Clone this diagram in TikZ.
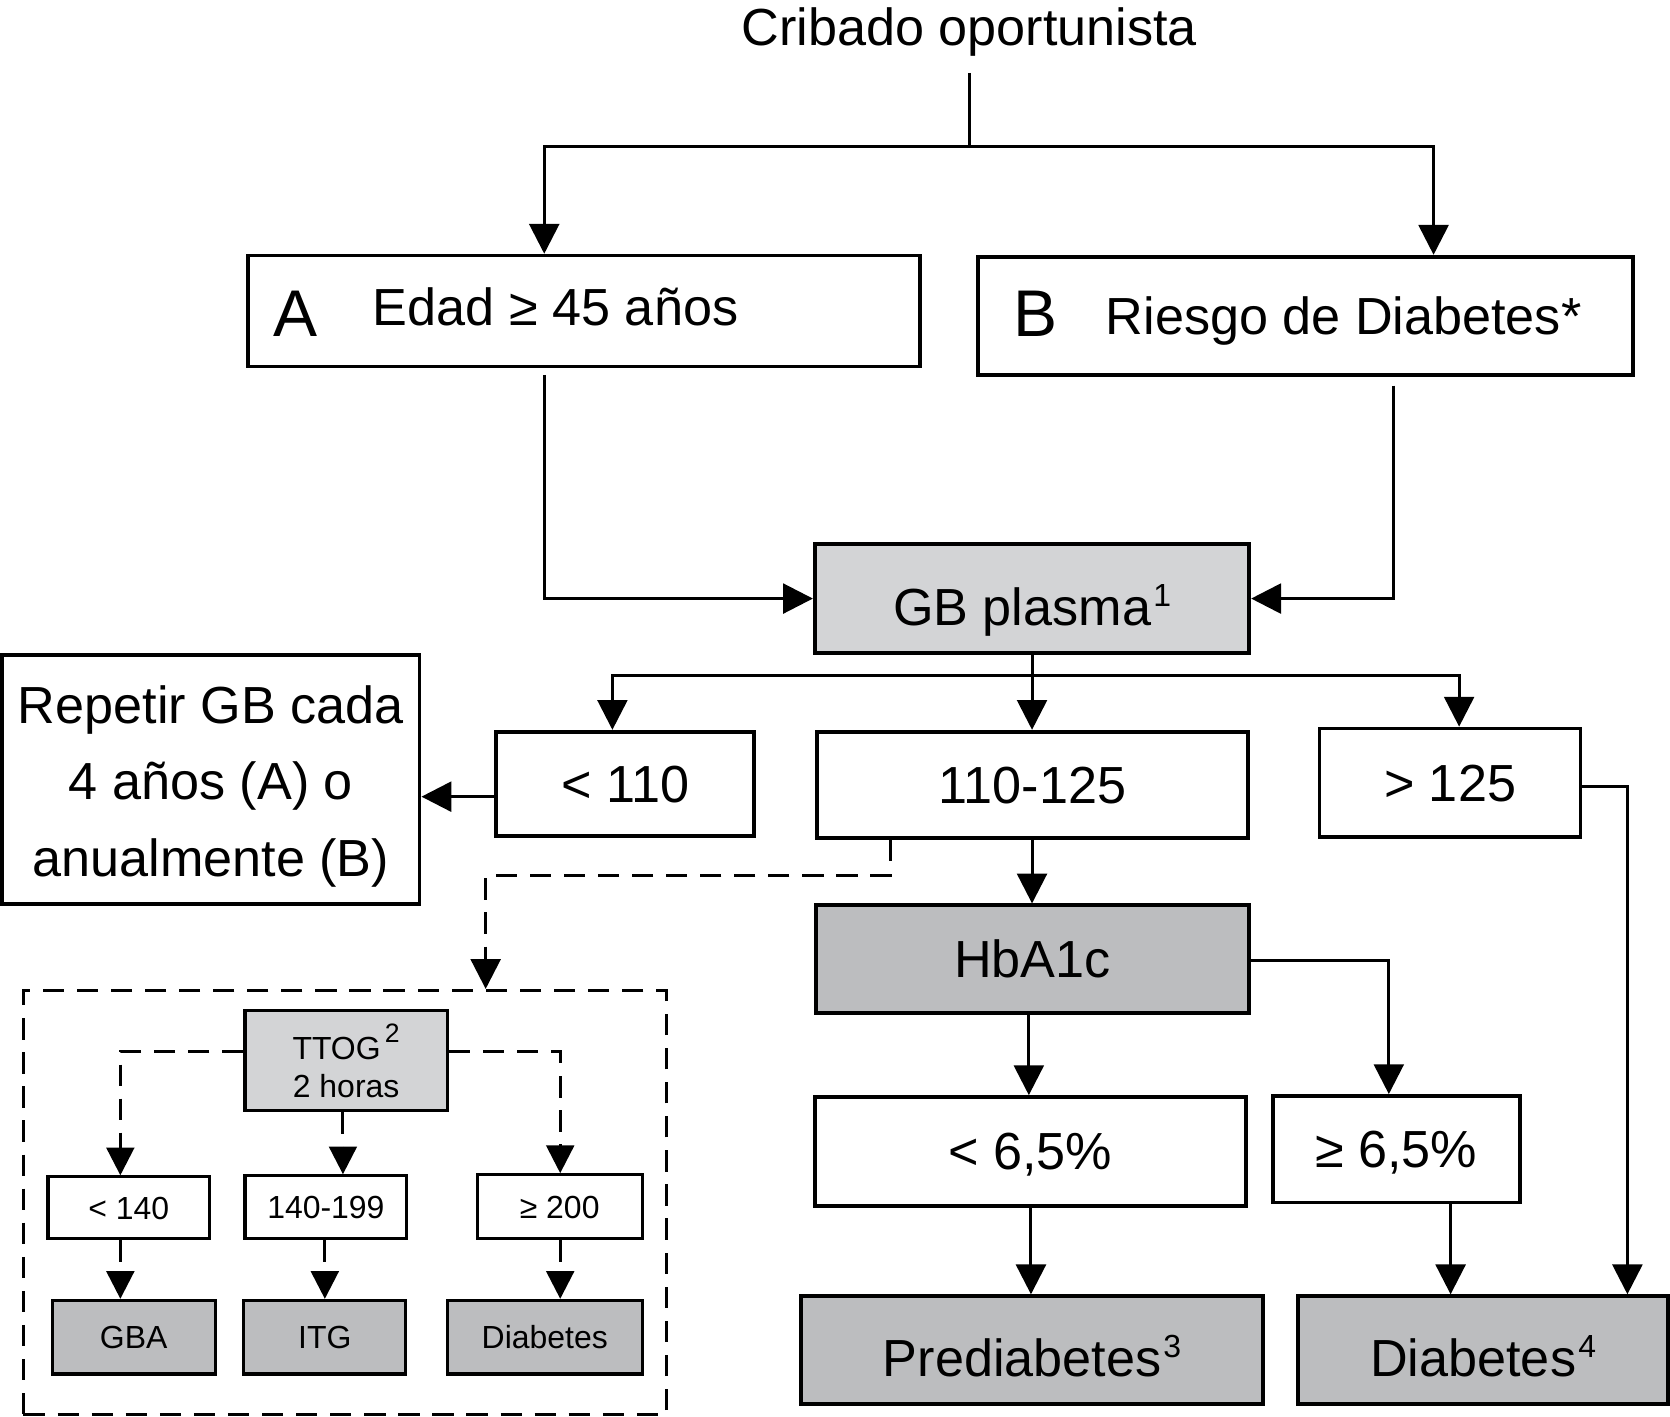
\documentclass[tikz,border=0pt]{standalone}
\usepackage{fontspec}
\setmainfont{Liberation Sans}
\usetikzlibrary{arrows.meta}
\definecolor{lgray}{HTML}{D3D4D6}
\definecolor{dgray}{HTML}{BCBDBF}
\newcommand\mysup[1]{\kern2pt\raisebox{18pt}{\fontsize{30}{30}\selectfont #1}}
\begin{document}
\begin{tikzpicture}[x=1pt,y=-1pt,
  bigfont/.style={font=\fontsize{49}{58}\selectfont},
  bigbox/.style={draw,line width=3.5pt,inner sep=0pt,bigfont,text height=35pt,text depth=0pt},
  supbox/.style={bigbox,text height=50pt},
  smallbox/.style={draw,line width=3pt,inner sep=0pt,font=\fontsize{30}{35}\selectfont,text height=21.5pt,text depth=0pt},
  conn/.style={line width=2.8pt},
  arr/.style={conn,-{Triangle[length=28pt,width=28pt]}},
  sarr/.style={conn,-{Triangle[length=26pt,width=26pt]}},
  dsh/.style={dash pattern=on 20pt off 12pt}]
\useasboundingbox (0,0) rectangle (1568,1330);

% dashed frame
\node[draw,line width=3pt,dsh,inner sep=0pt,minimum width=604pt,minimum height=398pt] (dbox) at (324,1129) {};

% title
\node[bigfont,inner sep=0pt,anchor=base] (cri) at (910,43) {Cribado oportunista};

% A and B boxes
\node[draw,line width=3.5pt,inner sep=0pt,minimum width=631pt,minimum height=104pt] (A) at (548.5,292) {};
\node[font=\fontsize{62}{62}\selectfont,inner sep=0pt,anchor=base west] (Alab) at (257,316) {A};
\node[bigfont,inner sep=0pt,anchor=base west] (Atxt) at (350,306) {Edad ≥ 45 años};
\node[draw,line width=3.5pt,inner sep=0pt,minimum width=615pt,minimum height=111pt] (B) at (1225.5,296.5) {};
\node[font=\fontsize{62}{62}\selectfont,inner sep=0pt,anchor=base west] (Blab) at (951,316) {B};
\node[bigfont,inner sep=0pt,anchor=base west] (Btxt) at (1038,314) {Riesgo de Diabetes*};

% main boxes
\node[supbox,fill=lgray,minimum width=408pt,minimum height=102pt] (GB) at (969,562) {GB plasma\mysup{1}};
\node[bigbox,minimum width=242pt,minimum height=98pt] (lt) at (587,736) {< 110};
\node[bigbox,minimum width=405pt,minimum height=100pt] (mid) at (969.5,737) {110-125};
\node[bigbox,minimum width=245pt,minimum height=102pt] (gt) at (1361.5,735) {> 125};
\node[draw,line width=3.5pt,inner sep=0pt,align=center,font=\fontsize{49}{72}\selectfont,minimum width=392pt,minimum height=234pt] (rep) at (198,732) {\rule{0pt}{48pt}Repetir GB cada\\4 años (A) o\\anualmente (B)};
\node[bigbox,fill=dgray,minimum width=407pt,minimum height=101pt] (hb) at (969.5,900.5) {HbA1c};
\node[bigbox,minimum width=405pt,minimum height=102pt] (lt65) at (967.5,1081) {< 6,5\%};
\node[bigbox,minimum width=232pt,minimum height=100pt] (ge65) at (1311,1079) {≥ 6,5\%};
\node[supbox,fill=dgray,minimum width=434pt,minimum height=101pt] (pre) at (969,1267.5) {Prediabetes\mysup{3}};
\node[supbox,fill=dgray,minimum width=347pt,minimum height=101pt] (dia) at (1392.5,1267.5) {Diabetes\mysup{4}};

% small boxes
\node[draw,line width=3pt,inner sep=0pt,fill=lgray,align=center,font=\fontsize{30}{35}\selectfont,minimum width=190pt,minimum height=94pt] (tt) at (325,996) {TTOG\kern4pt\raisebox{16pt}{\fontsize{25}{25}\selectfont 2}\\2 horas};
\node[smallbox,minimum width=152pt,minimum height=58pt] (l140) at (121,1134) {< 140};
\node[smallbox,minimum width=152pt,minimum height=59pt] (m140) at (306,1133.5) {140-199};
\node[smallbox,minimum width=155pt,minimum height=60pt] (g200) at (525.5,1133) {≥ 200};
\node[smallbox,fill=dgray,minimum width=153pt,minimum height=69pt] (gba) at (125.5,1255.5) {GBA};
\node[smallbox,fill=dgray,minimum width=152pt,minimum height=69pt] (itg) at (305,1255.5) {ITG};
\node[smallbox,fill=dgray,minimum width=183pt,minimum height=69pt] (dsm) at (511.5,1255.5) {Diabetes};

% free ends
\coordinate (split) at (910,138);
\coordinate (Aout) at (511,352);
\coordinate (Bout) at (1308,362);
\coordinate (gbs) at (969,634);

% connectors
\draw[conn] ([yshift=-15pt]cri.south) -- (split);
\draw[arr] (split) -| (511,0 |- A.north);
\draw[arr] (split) -| (1346,0 |- B.north);
\draw[arr] (Aout) |- (GB.west);
\draw[arr] (Bout) |- (GB.east);
\draw[conn] (GB.south) -- (gbs);
\draw[arr] (gbs) -| (575,0 |- lt.north);
\draw[arr] (gbs) -| (1370,0 |- gt.north);
\draw[arr] (gbs) -- (gbs |- mid.north);
\draw[arr] (lt.west |- 0,748) -- (rep.east |- 0,748);
\draw[arr] (gt.east |- 0,738) -| (1528,0 |- dia.north);
\draw[arr] (969,0 |- mid.south) -- (969,0 |- hb.north);
\draw[arr,dsh] (836,0 |- mid.south) -- (836,822) -| (456,0 |- dbox.north);
\draw[arr] (966,0 |- hb.south) -- (966,0 |- lt65.north);
\draw[arr] (hb.east |- 0,902) -| (1304,0 |- ge65.north);
\draw[arr] (968,0 |- lt65.south) -- (968,0 |- pre.north);
\draw[arr] (1362,0 |- ge65.south) -- (1362,0 |- dia.north);
\draw[sarr,dsh] (tt.west |- 0,987) -| (113,0 |- l140.north);
\draw[sarr,dsh] (322,0 |- tt.south) -- (322,0 |- m140.north);
\draw[sarr,dsh] (tt.east |- 0,987) -| (526,0 |- g200.north);
\draw[sarr,dsh] (113,0 |- l140.south) -- (113,0 |- gba.north);
\draw[sarr,dsh] (305,0 |- m140.south) -- (305,0 |- itg.north);
\draw[sarr,dsh] (526,0 |- g200.south) -- (526,0 |- dsm.north);
\end{tikzpicture}
\end{document}
